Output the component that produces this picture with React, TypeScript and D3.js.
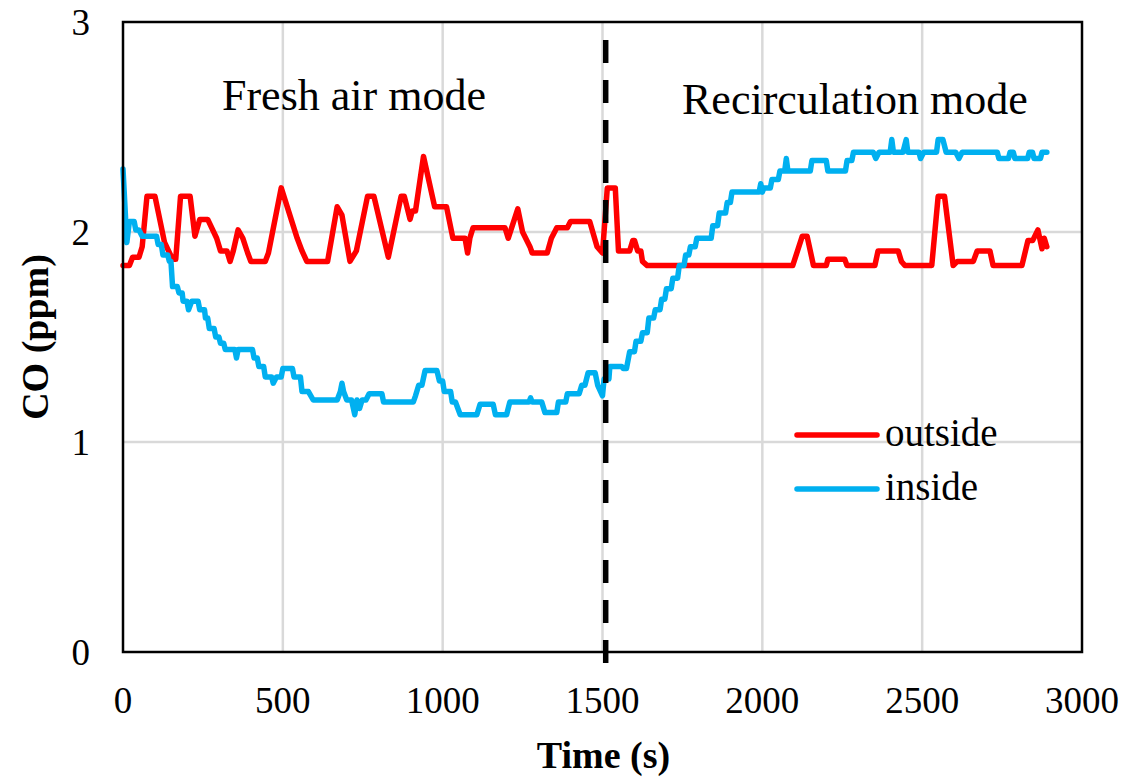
import React from "react";
import * as d3 from "d3";

const W = 1128;
const H = 779;

const xTicks = [0, 500, 1000, 1500, 2000, 2500, 3000];
const yTicks = [0, 1, 2, 3];
const seriesNames = ["outside", "inside"];
const modeLabels = ["Fresh air mode", "Recirculation mode"];
const switchTime = 1510;

const outsideData: [number, number][] = [
  [0, 1.84], [20, 1.84], [30, 1.88], [50, 1.88], [60, 1.93], [75, 2.17], [100, 2.17], [130, 1.95],
  [155, 1.87], [165, 1.87], [180, 2.17], [210, 2.17], [225, 1.98], [240, 2.06], [265, 2.06],
  [293, 1.97], [305, 1.91], [325, 1.91], [335, 1.86], [345, 1.91], [360, 2.01], [375, 1.97],
  [390, 1.9], [400, 1.86], [445, 1.86], [455, 1.9], [495, 2.21], [545, 1.97], [560, 1.91],
  [575, 1.86], [640, 1.86], [670, 2.12], [685, 2.08], [710, 1.86], [730, 1.91], [765, 2.17],
  [785, 2.17], [830, 1.88], [870, 2.17], [880, 2.17], [898, 2.06], [905, 2.1], [915, 2.1],
  [940, 2.36], [975, 2.12], [1012, 2.12], [1032, 1.97], [1070, 1.97], [1078, 1.9], [1085, 1.97],
  [1095, 2.02], [1195, 2.02], [1205, 1.97], [1235, 2.11], [1250, 2.0], [1273, 1.93], [1280, 1.9],
  [1327, 1.9], [1340, 1.97], [1357, 2.02], [1390, 2.02], [1400, 2.05], [1460, 2.05], [1483, 1.93],
  [1500, 1.9], [1515, 2.21], [1540, 2.21], [1550, 1.91], [1585, 1.91], [1595, 1.96], [1600, 1.96],
  [1610, 1.91], [1620, 1.91], [1625, 1.86], [1640, 1.84], [2095, 1.84], [2125, 1.98], [2140, 1.98],
  [2160, 1.84], [2200, 1.84], [2205, 1.87], [2258, 1.87], [2265, 1.84], [2352, 1.84], [2362, 1.91],
  [2425, 1.91], [2435, 1.86], [2446, 1.84], [2530, 1.84], [2550, 2.17], [2570, 2.17], [2597, 1.84],
  [2610, 1.86], [2660, 1.86], [2672, 1.91], [2712, 1.91], [2722, 1.84], [2812, 1.84], [2831, 1.96],
  [2846, 1.96], [2862, 2.01], [2875, 1.92], [2882, 1.97], [2890, 1.93],
];

const insideData: [number, number][] = [
  [0, 2.3], [12, 1.95], [20, 2.05], [35, 2.05], [40, 2.01], [50, 2.01], [60, 1.98], [105, 1.98],
  [110, 1.94], [120, 1.94], [125, 1.89], [140, 1.89], [145, 1.86], [150, 1.86], [155, 1.74],
  [170, 1.74], [175, 1.71], [185, 1.71], [188, 1.67], [200, 1.67], [205, 1.63], [215, 1.67],
  [235, 1.67], [240, 1.63], [255, 1.63], [258, 1.59], [265, 1.59], [270, 1.54], [285, 1.54],
  [290, 1.5], [300, 1.5], [305, 1.47], [315, 1.47], [320, 1.44], [350, 1.44], [355, 1.4],
  [360, 1.44], [405, 1.44], [410, 1.4], [420, 1.4], [425, 1.36], [440, 1.36], [445, 1.31],
  [465, 1.31], [470, 1.28], [480, 1.31], [495, 1.31], [500, 1.35], [530, 1.35], [535, 1.31],
  [555, 1.31], [560, 1.24], [580, 1.24], [595, 1.2], [670, 1.2], [680, 1.24], [685, 1.28],
  [690, 1.24], [700, 1.2], [715, 1.2], [725, 1.13], [732, 1.2], [740, 1.16], [748, 1.2],
  [760, 1.2], [770, 1.23], [810, 1.23], [815, 1.19], [908, 1.19], [915, 1.22], [925, 1.27],
  [935, 1.27], [945, 1.34], [982, 1.34], [990, 1.29], [1000, 1.29], [1005, 1.24], [1025, 1.24],
  [1030, 1.19], [1040, 1.19], [1055, 1.13], [1107, 1.13], [1117, 1.18], [1158, 1.18], [1165, 1.13],
  [1200, 1.13], [1210, 1.19], [1270, 1.19], [1275, 1.21], [1280, 1.19], [1310, 1.19], [1320, 1.14],
  [1357, 1.14], [1362, 1.19], [1385, 1.19], [1390, 1.23], [1427, 1.23], [1435, 1.27], [1445, 1.27],
  [1455, 1.33], [1477, 1.33], [1485, 1.27], [1500, 1.22], [1505, 1.3], [1520, 1.3], [1523, 1.36],
  [1560, 1.36], [1565, 1.35], [1575, 1.35], [1585, 1.43], [1600, 1.43], [1605, 1.48], [1620, 1.48],
  [1625, 1.52], [1640, 1.52], [1645, 1.59], [1660, 1.59], [1665, 1.63], [1680, 1.63], [1685, 1.68],
  [1695, 1.68], [1700, 1.73], [1715, 1.73], [1720, 1.78], [1735, 1.78], [1740, 1.84], [1755, 1.84],
  [1760, 1.89], [1770, 1.89], [1775, 1.93], [1790, 1.93], [1795, 1.97], [1840, 1.97], [1845, 2.03],
  [1860, 2.03], [1865, 2.09], [1885, 2.09], [1890, 2.14], [1900, 2.14], [1905, 2.19], [1990, 2.19],
  [1995, 2.23], [2000, 2.19], [2005, 2.21], [2025, 2.21], [2030, 2.25], [2050, 2.25], [2055, 2.29],
  [2070, 2.29], [2075, 2.35], [2080, 2.29], [2150, 2.29], [2155, 2.34], [2200, 2.34], [2205, 2.29],
  [2260, 2.29], [2265, 2.34], [2280, 2.34], [2285, 2.38], [2347, 2.38], [2355, 2.35], [2365, 2.38],
  [2400, 2.38], [2405, 2.44], [2410, 2.38], [2440, 2.38], [2450, 2.44], [2455, 2.38], [2490, 2.38],
  [2495, 2.35], [2505, 2.38], [2545, 2.38], [2550, 2.44], [2565, 2.44], [2575, 2.38], [2605, 2.38],
  [2615, 2.35], [2625, 2.38], [2735, 2.38], [2740, 2.35], [2770, 2.35], [2775, 2.38], [2785, 2.38],
  [2790, 2.35], [2830, 2.35], [2835, 2.38], [2845, 2.38], [2850, 2.35], [2870, 2.35], [2875, 2.38],
  [2890, 2.38],
];

const RED = "#ff0000";
const BLUE = "#00b0f0";
const FONT = "'Liberation Serif', 'Times New Roman', serif";

export default function App() {
  const left = 123, right = 1082, top = 22, bottom = 652;
  const x = d3.scaleLinear().domain([0, 3000]).range([left, right]);
  const y = d3.scaleLinear().domain([0, 3]).range([bottom, top]);
  const line = d3
    .line<[number, number]>()
    .x((d) => x(d[0]))
    .y((d) => y(d[1]));

  return (
    <div style={{ position: "absolute", left: 0, top: 0 }}>
      <svg width={W} height={H} style={{ display: "block", background: "#fff" }} fontFamily={FONT}>
        {/* grid */}
        {xTicks.slice(1, -1).map((t) => (
          <line key={"gx" + t} x1={x(t)} x2={x(t)} y1={top} y2={bottom} stroke="#d9d9d9" strokeWidth={2.5} />
        ))}
        {yTicks.slice(1, -1).map((t) => (
          <line key={"gy" + t} x1={left} x2={right} y1={y(t)} y2={y(t)} stroke="#d9d9d9" strokeWidth={2.5} />
        ))}
        {/* series */}
        <path d={line(outsideData) || ""} fill="none" stroke={RED} strokeWidth={5.5} strokeLinejoin="round" strokeLinecap="round" />
        <path d={line(insideData) || ""} fill="none" stroke={BLUE} strokeWidth={5.5} strokeLinejoin="round" strokeLinecap="round" />
        {/* frame */}
        <rect x={left} y={top} width={right - left} height={bottom - top} fill="none" stroke="#000" strokeWidth={2.5} />
        {/* mode switch line */}
        <line x1={x(switchTime)} x2={x(switchTime)} y1={bottom + 11} y2={top} stroke="#000" strokeWidth={5.5} strokeDasharray="23 17" />
        {/* tick labels */}
        {xTicks.map((t) => (
          <text key={"xt" + t} x={x(t)} y={713} fontSize={37} textAnchor="middle" fill="#000">
            {t}
          </text>
        ))}
        {yTicks.map((t) => (
          <text key={"yt" + t} x={90} y={y(t) + 13} fontSize={37} textAnchor="end" fill="#000">
            {t}
          </text>
        ))}
        {/* axis titles */}
        <text x={(left + right) / 2 + 1} y={768} fontSize={38} fontWeight="bold" textAnchor="middle" fill="#000">
          Time (s)
        </text>
        <text
          transform={`translate(48, ${(top + bottom) / 2}) rotate(-90)`}
          fontSize={38}
          fontWeight="bold"
          textAnchor="middle"
          fill="#000"
        >
          CO (ppm)
        </text>
        {/* mode labels */}
        <text x={222} y={110} fontSize={44} fill="#000">
          {modeLabels[0]}
        </text>
        <text x={682} y={114} fontSize={44} fill="#000">
          {modeLabels[1]}
        </text>
        {/* legend */}
        {seriesNames.map((n, i) => (
          <g key={n}>
            <line x1={797} x2={877} y1={435 + i * 54} y2={435 + i * 54} stroke={i === 0 ? RED : BLUE} strokeWidth={5.5} strokeLinecap="round" />
            <text x={885} y={446 + i * 54} fontSize={39} fill="#000">
              {n}
            </text>
          </g>
        ))}
      </svg>
    </div>
  );
}
